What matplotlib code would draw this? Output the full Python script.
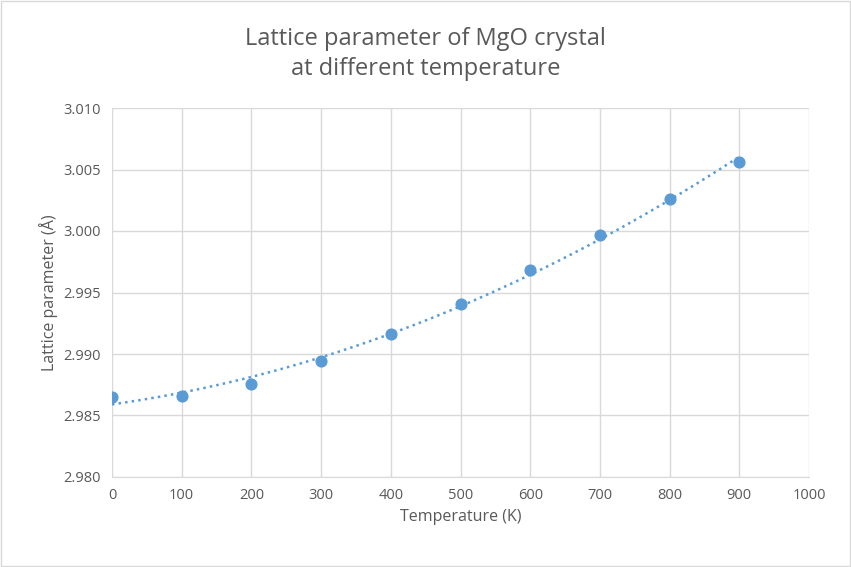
import numpy as np
import matplotlib.pyplot as plt

plt.rcParams['font.family'] = ['Open Sans', 'DejaVu Sans']

temperature = [0, 100, 200, 300, 400, 500, 600, 700, 800, 900]
lattice = [2.9865, 2.9866, 2.9876, 2.9894, 2.9916, 2.9941, 2.9968, 2.9997, 3.0026, 3.0056]

# quadratic trendline like Excel's polynomial trend
coef = np.polyfit(temperature, lattice, 2)
xt = np.linspace(0, 900, 200)
yt = np.polyval(coef, xt)

fig = plt.figure(figsize=(8.51, 5.67), dpi=100)
ax = fig.add_axes([112/851, 1-477/567, (809-112)/851, (477-108)/567])
color = '#5B9BD5'
ax.plot(xt, yt, ':', color=color, lw=1.8)
ax.scatter(temperature, lattice, s=60, color=color, zorder=3)

ax.set_xlim(0, 1000)
ax.set_ylim(2.980, 3.010)
ax.set_xticks(np.arange(0, 1001, 100))
ax.set_yticks(np.arange(2.980, 3.0101, 0.005))
ax.set_yticklabels([f'{v:.3f}' for v in np.arange(2.980, 3.0101, 0.005)])
ax.grid(True, color='#D9D9D9', lw=1)
ax.set_axisbelow(True)
for s in ax.spines.values():
    s.set_visible(False)
ax.spines['bottom'].set_visible(True)
ax.spines['bottom'].set_color('#D9D9D9')
ax.tick_params(length=0, labelsize=10.5, colors='#595959', pad=8)
ax.set_xlabel('Temperature (K)', fontsize=11.5, color='#595959')
ax.set_ylabel('Lattice parameter (Å)', fontsize=11.5, color='#595959')
fig.text(0.5, 0.905, 'Lattice parameter of MgO crystal\nat different temperature',
         ha='center', va='center', fontsize=17, color='#595959', linespacing=1.3)
fig.patches.append(plt.Rectangle((0.001, 0.001), 0.998, 0.998, transform=fig.transFigure,
                                 fill=False, edgecolor='#D9D9D9', lw=1))
fig.savefig('out.png', dpi=100)
